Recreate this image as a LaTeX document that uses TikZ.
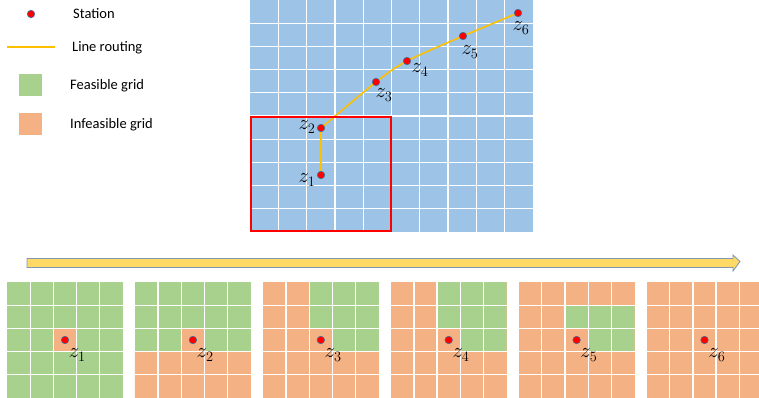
\documentclass[tikz,border=0pt]{standalone}
\usepackage{fontspec}
\setmainfont{Carlito}
\pgfdeclarelayer{bg}
\pgfdeclarelayer{mid}
\pgfsetlayers{bg,mid,main}
\definecolor{gblue}{HTML}{9DC3E6}
\definecolor{ggreen}{HTML}{A9D18E}
\definecolor{gorange}{HTML}{F4B183}
\definecolor{route}{HTML}{FFC000}
\definecolor{arrfill}{HTML}{FFD966}
\definecolor{arrline}{HTML}{8497B0}
\definecolor{dotline}{HTML}{41719C}
\tikzset{
  station/.style={circle, fill=red, draw=dotline, line width=0.6pt, minimum size=7.5pt, inner sep=0pt},
  zlab/.style={inner sep=0pt, font=\fontsize{20}{20}\selectfont},
  legtext/.style={anchor=west, inner sep=0pt, font=\fontsize{14.5}{15}\selectfont},
  gridline/.style={white, line width=1.3pt},
  routing/.style={route, line width=1.6pt},
}
\begin{document}
\begin{tikzpicture}[x=1pt,y=-1pt]
\useasboundingbox (0,0) rectangle (759,397);
\begin{scope}
\clip (0,0) rectangle (759,397);
% ---------- legend ----------
\node[station] (legdot) at (31,14) {};
\node[legtext] (legt1) at (73,14) {Station};
\coordinate (lr0) at (7,47);
\coordinate (lr1) at (55,47);
\draw[routing] (lr0) -- (lr1);
\node[legtext] (legt2) at (72,48) {Line routing};
\node[fill=ggreen, minimum width=23pt, minimum height=22pt, inner sep=0pt] (legg) at (30.5,85) {};
\node[legtext] (legt3) at (70,86) {Feasible grid};
\node[fill=gorange, minimum width=23pt, minimum height=22pt, inner sep=0pt] (lego) at (30.5,124) {};
\node[legtext] (legt4) at (70,125) {Infeasible grid};

% ---------- top grid ----------
\begin{pgfonlayer}{bg}
\fill[gblue] (250,0) rectangle (533,232);
\foreach \i in {1,...,9} {
  \draw[gridline] ({250+28.3*\i},0) -- ({250+28.3*\i},232);
  \draw[gridline] (250,{23.2*\i}) -- (533,{23.2*\i});
}
\end{pgfonlayer}
\draw[red, line width=1.6pt] (250.8,117) rectangle (391,231.2);

\node[station] (z1) at (321,175) {};
\node[station] (z2) at (321,128) {};
\node[station] (z3) at (376,82) {};
\node[station] (z4) at (407,61) {};
\node[station] (z5) at (463,36) {};
\node[station] (z6) at (518,13) {};
\begin{pgfonlayer}{mid}
\draw[routing] (z1.center) -- (z2.center);
\draw[routing] plot[smooth, tension=0.5] coordinates {(z2.center) (z3.center) (z4.center) (z5.center) (z6.center)};
\end{pgfonlayer}
\node[zlab] (t1) at (307,180) {$z_1$};
\node[zlab] (t2) at (307,127) {$z_2$};
\node[zlab] (t3) at (384,95) {$z_3$};
\node[zlab] (t4) at (420,70) {$z_4$};
\node[zlab] (t5) at (470,52) {$z_5$};
\node[zlab] (t6) at (521,28) {$z_6$};

% ---------- time arrow ----------
\coordinate (a0) at (27,261.5);
\coordinate (a1) at (740,261.5);
\draw[fill=arrfill, draw=arrline, line width=0.9pt]
  (a0) ++(0,-3) -- ++(706,0) -- ++(0,-3.5) -- (a1) -- ++(-7,9.5) -- ++(0,-3.5) -- ++(-706,0) -- cycle;

% ---------- bottom grids ----------
\foreach \k/\base in {1/ggreen,2/ggreen,3/gorange,4/gorange,5/gorange,6/gorange} {
  \begin{scope}[shift={({7+127.9*(\k-1)},282)}, x=23.2pt, y=-23.2pt]
    \begin{pgfonlayer}{bg}
    \fill[\base] (0,0) rectangle (5,5);
    \ifnum\k=1 \fill[gorange] (2,2) rectangle (3,3); \fi
    \ifnum\k=2 \fill[gorange] (2,2) rectangle (3,3) (0,3) rectangle (5,5); \fi
    \ifnum\k=3 \fill[ggreen] (2,0) rectangle (5,2) (3,2) rectangle (5,3); \fi
    \ifnum\k=4 \fill[ggreen] (2,0) rectangle (5,2) (3,2) rectangle (5,3); \fi
    \ifnum\k=5 \fill[ggreen] (2,1) rectangle (5,2) (3,2) rectangle (5,3); \fi
    \foreach \j in {1,...,4} {
      \draw[gridline] (\j,0) -- (\j,5);
      \draw[gridline] (0,\j) -- (5,\j);
    }
    \end{pgfonlayer}
    \node[station] (s\k) at (2.5,2.5) {};
    \node[zlab] (u\k) at (3.03,3.15) {$z_{\k}$};
  \end{scope}
}
\end{scope}
\end{tikzpicture}
\end{document}
